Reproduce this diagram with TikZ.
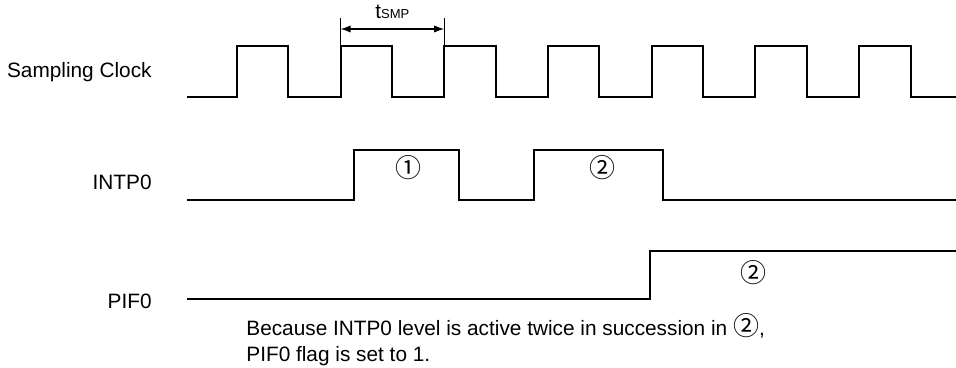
\documentclass[tikz,border=0pt]{standalone}
\usepackage{fontspec}
\setmainfont{Liberation Sans}
\newfontfamily\circfont{Noto Sans CJK JP}
\usepackage{xcolor}
\usepackage{tikz}
\usetikzlibrary{arrows.meta}
\definecolor{cInk}{HTML}{000000}
\tikzset{
  wave/.style={draw=cInk,line width=1pt},
  sig/.style={font=\fontsize{10.4}{12.5}\selectfont,text=cInk,inner sep=0pt},
  circ/.style={font=\circfont\fontsize{13}{14}\selectfont,text=cInk,inner sep=0pt},
  dim/.style={{Latex[length=5pt,width=3.6pt]}-{Latex[length=5pt,width=3.6pt]},line width=0.6pt,color=cInk},
  tick/.style={line width=0.6pt,color=cInk},
}

\begin{document}
\begin{tikzpicture}[x=0.5pt,y=-0.5pt]
  \useasboundingbox (0,0) rectangle (956,368);
  \node[sig,anchor=base east] (clk) at (152,78) {Sampling Clock};
  \node[sig,anchor=base east] (intp) at (152,190) {INTP0};
  \node[sig,anchor=base east] (pif) at (152,308) {PIF0};
  \draw[wave] (187,97) foreach \k in {0,...,6}{ -- ({236.8+103.7*\k},97) -- ++(0,-51) -- ++(51.5,0) -- ++(0,51)} -- (956,97);
  \draw[wave] (187,200) -| (354,150) -| (459,200) -| (534,150) -| (663,200) -- (956,200);
  \draw[wave] (187,299) -| (650,251) -- (956,251);
  \coordinate (s1) at (340.5,29);
  \coordinate (s2) at (444.2,29);
  \foreach \x in {340.5,444.2}{\draw[tick] (\x,18) -- (\x,46);}
  \draw[dim] (s1) -- (s2);
  \node[sig,anchor=base] (tsmp) at (392.4,19) {t{\fontsize{6.5}{7}\selectfont SMP}};
  \node[circ] (n1) at (408,168) {①};
  \node[circ] (n2) at (602,168) {②};
  \node[circ] (n3) at (753,273) {②};
  \node[sig,anchor=base west] (note1) at (246,335) {Because INTP0 level is active twice in succession in {\circfont\fontsize{13}{14}\selectfont ②},};
  \node[sig,anchor=base west] (note2) at (246,361) {PIF0 flag is set to 1.};
\end{tikzpicture}
\end{document}
